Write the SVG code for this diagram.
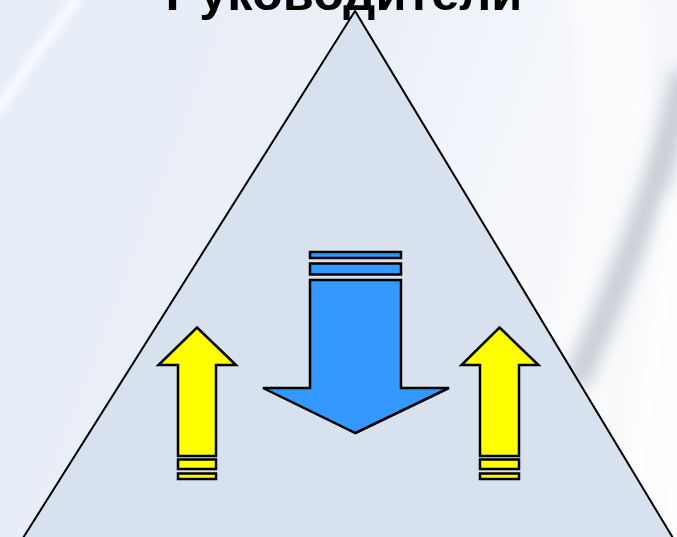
<svg xmlns="http://www.w3.org/2000/svg" width="677" height="537" viewBox="0 0 677 537">
<defs>
<linearGradient id="bg" x1="0" y1="0" x2="1" y2="0.3">
<stop offset="0" stop-color="#e6edf7"/>
<stop offset="0.55" stop-color="#ebf0f8"/>
<stop offset="0.8" stop-color="#f5f7fb"/>
<stop offset="1" stop-color="#f8f9fb"/>
</linearGradient>
<filter id="blur" x="-50%" y="-50%" width="200%" height="200%"><feGaussianBlur stdDeviation="9"/></filter>
<filter id="blur2" x="-50%" y="-50%" width="200%" height="200%"><feGaussianBlur stdDeviation="4"/></filter>
<style>
.title{font-family:"Liberation Sans",Arial,sans-serif;font-weight:bold;font-size:50.5px;fill:#000}
.tri{fill:#d8e2ee;stroke:#000;stroke-width:2}
.blue{fill:#3399ff;stroke:#000;stroke-width:2.5;stroke-linejoin:miter}
.yellow{fill:#ffff00;stroke:#000;stroke-width:2.5;stroke-linejoin:miter}
</style>
</defs>
<rect width="677" height="537" fill="url(#bg)"/>
<path d="M-5,115 C20,75 50,35 80,-5" fill="none" stroke="#ffffff" stroke-width="9" opacity="0.85" filter="url(#blur2)"/>
<path d="M600,-20 C640,120 620,260 560,420" fill="none" stroke="#ffffff" stroke-width="70" opacity="0.55" filter="url(#blur)"/>
<path d="M685,70 C665,170 630,260 575,385" fill="none" stroke="#b9c0ca" stroke-width="26" opacity="0.8" filter="url(#blur)"/>
<path d="M700,200 C685,300 665,400 645,560" fill="none" stroke="#ffffff" stroke-width="70" opacity="0.8" filter="url(#blur)"/>
<g id="title"><text class="title" x="344" y="10" text-anchor="middle">Руководители</text></g>
<g id="pyramid"><polygon class="tri" points="355,11 23,538 673,538"/></g>
<g id="down-arrow">
<rect class="blue" x="310" y="252" width="91" height="6"/>
<rect class="blue" x="310" y="263.5" width="91" height="11"/>
<polygon class="blue" points="310,280 401,280 401,388 449,388 355.5,433 263,388 310,388"/>
</g>
<g id="up-arrow-left">
<polygon class="yellow" points="197,327.5 236,365 216,365 216,456 178,456 178,365 158.5,365"/>
<rect class="yellow" x="178" y="459.5" width="38" height="9.5"/>
<rect class="yellow" x="178" y="473.5" width="38" height="5.5"/>
</g>
<g id="up-arrow-right">
<polygon class="yellow" points="499.5,327.5 538.5,365 519,365 519,456 480,456 480,365 461.5,365"/>
<rect class="yellow" x="480" y="459.5" width="39" height="9.5"/>
<rect class="yellow" x="480" y="473.5" width="39" height="5.5"/>
</g>
<g id="connectors"/>
</svg>
